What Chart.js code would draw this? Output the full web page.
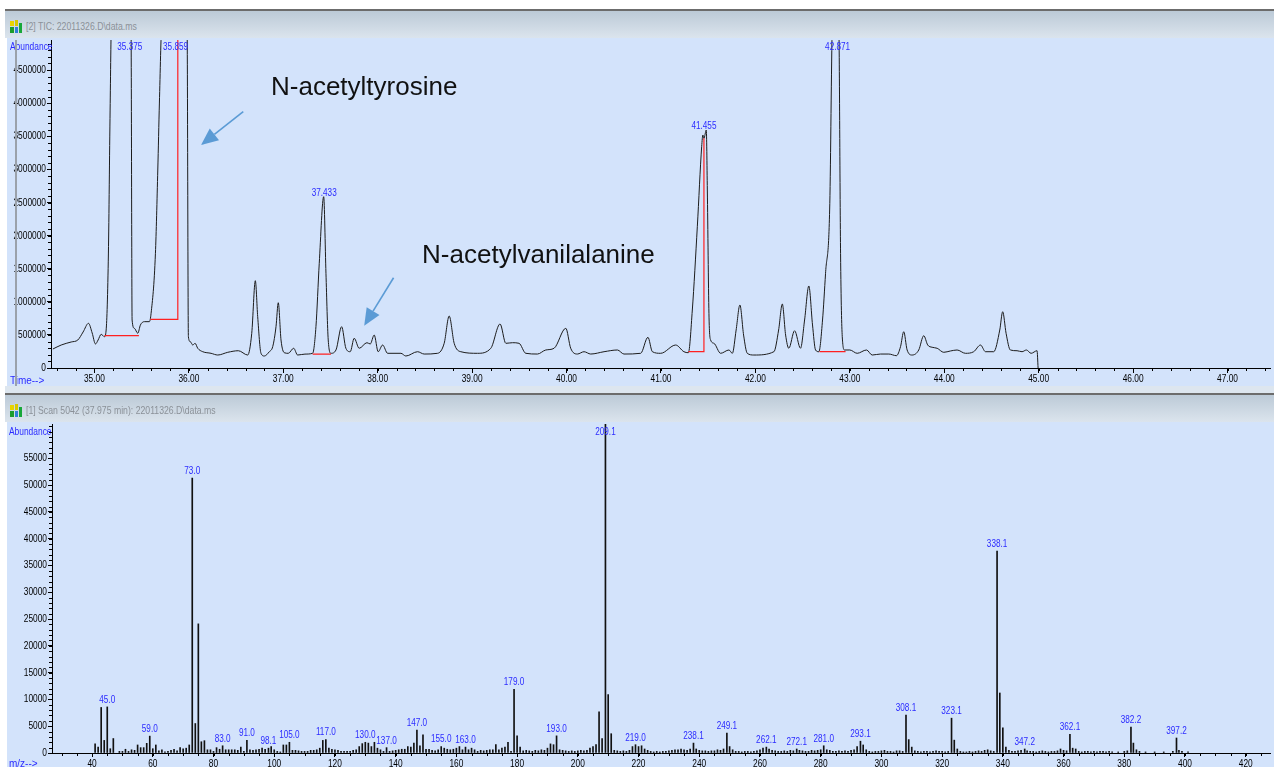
<!DOCTYPE html>
<html>
<head>
<meta charset="utf-8">
<script src="https://cdn.jsdelivr.net/npm/chart.js@4.4.0/dist/chart.umd.min.js"></script>
<style>
  body { margin: 0; width: 1274px; height: 767px; overflow: hidden; background: #fff; position: relative;
         font-family: 'Liberation Sans', Arial, sans-serif; }
  .topline { position: absolute; left: 5px; right: 0; height: 2px; background: #6c6c6c; }
  .hdr { position: absolute; left: 5px; right: 0; height: 27px; background: linear-gradient(#bccad7, #dbe4ed); }
  .hdr span { position: absolute; left: 21px; top: 9px; font-size: 11px; color: #8b9198; white-space: nowrap;
              transform: scaleX(0.79); transform-origin: 0 0; }
  .hdr svg { position: absolute; left: 4px; top: 9px; }
  .panel { position: absolute; left: 7px; right: 0; background: #d3e3fb; }
  .panel canvas { position: absolute; left: 0; top: 0; }
  .axlbl { position: absolute; font-size: 10.5px; color: #2b2bff; white-space: nowrap;
           transform: scaleX(0.8); transform-origin: 0 0; }
  .strip { position: absolute; left: 5px; right: 0; top: 386px; height: 7px; background: #dde6ef; }
  .cursor { position: absolute; left: 15px; top: 40px; width: 2px; height: 346px; background: #9aa1aa; }
</style>
</head>
<body>

<div class="topline" style="top:9px"></div>
<div class="hdr" style="top:11px">
  <svg width="14" height="14"><rect x="1" y="1" width="4" height="5" fill="#e8d400"/><rect x="6" y="0" width="3" height="6" fill="#d7c800"/><rect x="1" y="7" width="4" height="6" fill="#1c9c2c"/><rect x="6" y="7" width="3" height="6" fill="#2f7fd8"/><rect x="10" y="3" width="3" height="10" fill="#18a83a"/></svg>
  <span>[2] TIC: 22011326.D\data.ms</span>
</div>
<div class="panel" style="top:38px;height:348px"><canvas id="tic" width="1267" height="348"></canvas></div>
<div class="axlbl" style="left:10px;top:40px">Abundance</div>
<div class="axlbl" style="left:10px;top:374px;transform:scaleX(0.95)">Time--&gt;</div>
<div class="cursor"></div>
<div class="strip"></div>
<div class="topline" style="top:393px"></div>
<div class="hdr" style="top:395px">
  <svg width="14" height="14"><rect x="1" y="1" width="4" height="5" fill="#e8d400"/><rect x="6" y="0" width="3" height="6" fill="#d7c800"/><rect x="1" y="7" width="4" height="6" fill="#1c9c2c"/><rect x="6" y="7" width="3" height="6" fill="#2f7fd8"/><rect x="10" y="3" width="3" height="10" fill="#18a83a"/></svg>
  <span>[1] Scan 5042 (37.975 min): 22011326.D\data.ms</span>
</div>
<div class="panel" style="top:422px;height:345px"><canvas id="spec" width="1267" height="345"></canvas></div>
<div class="axlbl" style="left:9px;top:425px">Abundance</div>
<div class="axlbl" style="left:9px;top:757px;transform:scaleX(0.95)">m/z--&gt;</div>

<script>
// ---- TIC chromatogram (retention time in min, abundance) ----
var ticTime = [34.56, 34.648, 34.754, 34.824, 34.88, 34.937, 34.976, 35.011, 35.039, 35.071, 35.106, 35.124,
  35.148, 35.166, 35.18, 35.375, 35.388, 35.399, 35.423, 35.459, 35.487, 35.529, 35.582, 35.6, 35.646, 35.671,
  35.688, 35.713, 35.859, 35.981, 35.995, 36.016, 36.041, 36.066, 36.094, 36.147, 36.235, 36.306, 36.412,
  36.524, 36.623, 36.666, 36.704, 36.729, 36.764, 36.799, 36.852, 36.888, 36.923, 36.947, 36.976, 37.011,
  37.053, 37.11, 37.152, 37.23, 37.311, 37.346, 37.381, 37.428, 37.452, 37.476, 37.505, 37.558, 37.618, 37.663,
  37.709, 37.751, 37.804, 37.886, 37.921, 37.963, 38.005, 38.052, 38.105, 38.246, 38.298, 38.422, 38.492,
  38.634, 38.704, 38.757, 38.81, 38.88, 39.057, 39.198, 39.296, 39.357, 39.428, 39.497, 39.568, 39.692, 39.78,
  39.868, 39.992, 40.044, 40.115, 40.185, 40.256, 40.397, 40.539, 40.608, 40.785, 40.862, 40.909, 40.997,
  41.156, 41.243, 41.29, 41.332, 41.385, 41.431, 41.444, 41.455, 41.48, 41.491, 41.508, 41.526, 41.561,
  41.632, 41.72, 41.756, 41.796, 41.836, 41.875, 41.914, 41.984, 42.196, 42.246, 42.285, 42.32, 42.354,
  42.415, 42.478, 42.521, 42.566, 42.605, 42.637, 42.672, 42.711, 42.743, 42.788, 42.814, 42.85, 42.884,
  42.902, 42.92, 42.944, 43.0, 43.078, 43.177, 43.237, 43.325, 43.413, 43.494, 43.537, 43.571, 43.607, 43.66,
  43.73, 43.783, 43.825, 43.872, 43.925, 43.995, 44.065, 44.136, 44.224, 44.312, 44.384, 44.437, 44.524,
  44.588, 44.619, 44.655, 44.7, 44.771, 44.824, 44.87, 44.92, 44.983, 44.994]
var ticAbund = [287000, 347000, 393000, 423000, 544000, 675000, 529000, 363000, 423000, 509000, 473000, 574000,
  1737000, 3897000, 5200000, 6000000, 5200000, 725000, 600000, 524000, 650000, 700000, 700000, 826000, 1733000, 2991000,
  4003000, 5200000, 6000000, 5200000, 473000, 397000, 347000, 373000, 298000, 246000, 222000, 196000, 237000,
  261000, 196000, 524000, 1319000, 775000, 222000, 181000, 246000, 322000, 624000, 986000, 423000, 231000,
  222000, 298000, 196000, 210000, 222000, 624000, 1582000, 2588000, 1431000, 423000, 222000, 272000, 624000, 298000,
  246000, 449000, 298000, 382000, 363000, 498000, 246000, 347000, 222000, 222000, 181000, 246000, 211000,
  222000, 373000, 785000, 373000, 246000, 222000, 298000, 665000, 373000, 382000, 373000, 222000, 211000, 272000,
  298000, 600000, 298000, 211000, 246000, 211000, 246000, 272000, 211000, 222000, 464000, 246000, 222000,
  347000, 246000, 231000, 876000, 2134000, 3343000, 3520000, 3470000, 3595000, 2689000, 826000, 423000, 373000,
  222000, 272000, 222000, 574000, 952000, 498000, 222000, 196000, 246000, 574000, 967000, 498000, 298000,
  563000, 298000, 725000, 1239000, 650000, 272000, 246000, 725000, 1431000, 2488000, 5200000, 6000000, 5200000,
  1733000, 473000, 272000, 272000, 222000, 272000, 196000, 211000, 211000, 186000, 322000, 548000, 272000, 196000,
  272000, 488000, 347000, 313000, 298000, 237000, 257000, 272000, 222000, 246000, 347000, 246000, 246000,
  574000, 850000, 524000, 272000, 261000, 246000, 272000, 222000, 261000, 0]

// integration baselines (red), null abundance = break
var baseTime  = [35.106, 35.471, 35.5, 35.593, 35.883, 35.883, 36.0, 37.311, 37.505, 37.6, 41.29, 41.455, 41.455, 41.6, 42.679, 42.955]
var baseAbund = [488000, 488000, null, 735000, 735000, 5200000, null, 211000, 211000, null, 246000, 246000, 3470000, null, 246000, 246000]

var ticPeaks = [35.375, 35.859, 37.433, 41.455, 42.871]
var ticXTicks = [35, 36, 37, 38, 39, 40, 41, 42, 43, 44, 45, 46, 47]
var ticYTicks = [0, 500000, 1000000, 1500000, 2000000, 2500000, 3000000, 3500000, 4000000, 4500000]

// ---- mass spectrum, scan 5042 (m/z, abundance) ----
var specMz = [41, 42, 43, 44, 45, 46, 47, 49, 50, 51, 52, 53, 54, 55, 56, 57, 58, 59, 60, 61, 62, 63, 64, 65, 66, 67, 68, 69, 70,
  71, 72, 73, 74, 75, 76, 77, 78, 79, 80, 81, 82, 83, 84, 85, 86, 87, 88, 89, 90, 91, 92, 93, 94, 95, 96, 97, 98.1, 99, 100,
  101, 102, 103, 104, 105, 106, 107, 108, 109, 110, 111, 112, 113, 114, 115, 116, 117, 118, 119, 120, 121, 122, 123, 124, 125,
  126, 127, 128, 129, 130, 131, 132, 133, 134, 135, 136, 137, 138, 139, 140, 141, 142, 143, 144, 145, 146, 147, 148, 149, 150,
  151, 152, 153, 154, 155, 156, 157, 158, 159, 160, 161, 162, 163, 164, 165, 166, 167, 168, 169, 170, 171, 172, 173, 174, 175,
  176, 177, 178, 179, 180, 181, 182, 183, 184, 185, 186, 187, 188, 189, 190, 191, 192, 193, 194, 195, 196, 197, 198, 199, 200,
  201, 202, 203, 204, 205, 206, 207, 208, 209.1, 210, 211, 212, 213, 214, 215, 216, 217, 218, 219, 220, 221, 222, 223, 224, 225,
  226, 227, 228, 229, 230, 231, 232, 233, 234, 235, 236, 237, 238.1, 239, 240, 241, 242, 243, 244, 245, 246, 247, 248, 249.1, 250,
  251, 252, 253, 254, 255, 256, 257, 258, 259, 260, 261, 262.1, 263, 264, 265, 266, 267, 268, 269, 270, 271, 272.1, 273, 274, 275,
  276, 277, 278, 279, 280, 281, 282, 283, 284, 285, 286, 287, 288, 289, 290, 291, 292, 293.1, 294, 295, 296, 297, 298, 299, 300,
  301, 302, 303, 304, 305, 306, 307, 308.1, 309, 310, 311, 312, 313, 314, 315, 316, 317, 318, 319, 320, 321, 322, 323.1, 324, 325,
  326, 327, 328, 329, 330, 331, 332, 333, 334, 335, 336, 337, 338.1, 339, 340, 341, 342, 343, 344, 345, 346, 347.2, 348, 349, 350,
  351, 352, 353, 354, 355, 356, 357, 358, 359, 360, 361, 362.1, 363, 364, 365, 366, 367, 368, 369, 370, 371, 372, 373, 374, 375,
  376, 378, 380, 381, 382.2, 383, 384, 385, 387, 390, 393, 396, 397.2, 398, 399, 401]
var specAbund = [1700, 1100, 8500, 2350, 8600, 800, 2700, 300, 300, 700, 300, 600, 500, 1500, 1000, 1000, 1800, 3150, 800, 1500, 400, 600, 200, 300, 500, 700, 400, 1000, 800,
  900, 1500, 51300, 5500, 24100, 2100, 2300, 600, 600, 300, 1000, 700, 1350, 600, 600, 600, 600, 500, 1100, 300, 2350, 600, 500, 600, 700, 900, 700, 900, 1200, 600,
  300, 200, 1500, 1500, 2000, 500, 500, 400, 300, 300, 300, 500, 500, 600, 900, 2350, 2500, 900, 700, 600, 500, 300, 300, 300, 300,
  500, 600, 1200, 1750, 2000, 1850, 1200, 2000, 900, 600, 300, 1000, 300, 400, 500, 600, 700, 700, 1200, 1100, 1850, 4300, 1350, 3400, 700,
  700, 500, 400, 600, 1200, 900, 700, 600, 700, 900, 1200, 600, 1100, 600, 900, 600, 300, 500, 400, 500, 600, 600, 1550, 600, 900,
  1100, 2000, 300, 11900, 3200, 1100, 400, 500, 400, 300, 500, 400, 600, 500, 900, 1700, 1550, 3200, 600, 500, 400, 300, 400, 300, 400,
  500, 400, 500, 900, 1200, 1550, 7700, 2700, 61400, 10900, 3600, 500, 400, 300, 400, 300, 500, 1200, 1550, 1200, 1350, 750, 500, 300, 200,
  300, 200, 300, 300, 400, 500, 600, 600, 750, 600, 500, 750, 1850, 750, 500, 400, 400, 300, 400, 400, 600, 500, 750, 3700, 1200,
  600, 300, 300, 200, 300, 300, 200, 300, 400, 600, 900, 1100, 750, 500, 400, 300, 300, 400, 300, 500, 400, 750, 500, 400, 300,
  300, 500, 400, 500, 600, 1350, 600, 500, 300, 300, 400, 300, 400, 300, 500, 600, 1200, 2200, 1500, 600, 300, 200, 300, 300, 400,
  500, 300, 300, 200, 400, 400, 300, 7100, 2500, 1100, 400, 300, 200, 300, 300, 200, 300, 400, 300, 300, 200, 300, 6500, 2400, 750,
  300, 200, 200, 300, 200, 300, 400, 300, 500, 600, 400, 300, 37700, 11200, 4700, 1100, 500, 300, 300, 400, 500, 750, 400, 300, 300,
  200, 300, 400, 300, 200, 300, 300, 400, 750, 500, 400, 3500, 900, 750, 300, 200, 300, 300, 200, 300, 200, 300, 300, 200, 300,
  200, 200, 300, 400, 4850, 1850, 600, 300, 200, 200, 200, 300, 2800, 500, 300, 200]

var specLabels = [45.0, 59.0, 73.0, 83.0, 91.0, 98.1, 105.0, 117.0, 130.0, 137.0, 147.0, 155.0, 163.0, 179.0, 193.0,
  209.1, 219.0, 238.1, 249.1, 262.1, 272.1, 281.0, 293.1, 308.1, 323.1, 338.1, 347.2, 362.1, 382.2, 397.2]
var specXTicks = [40, 60, 80, 100, 120, 140, 160, 180, 200, 220, 240, 260, 280, 300, 320, 340, 360, 380, 400, 420]
var specYTicks = [0, 5000, 10000, 15000, 20000, 25000, 30000, 35000, 40000, 45000, 50000, 55000]

var sansFont = "'Liberation Sans', Arial, sans-serif"

const range = (a, b, s) => { var r = []; for (var v = a; v <= b + 1e-9; v += s) r.push(+v.toFixed(4)); return r }

// highest value near a given x
const apexOf = (xs, ys, t, tol) => {
  var best = 0
  for (var i = 0; i < xs.length; i++) {
    if (Math.abs(xs[i] - t) <= tol && ys[i] > best) best = ys[i]
  }
  return best
}

// condensed text: squeeze a normal face horizontally (no narrow face installed)
const narrowText = (ctx, text, x, y, align, size, sx) => {
  ctx.save()
  ctx.translate(x, y)
  ctx.scale(sx, 1)
  ctx.font = size + 'px ' + sansFont
  ctx.textAlign = align
  ctx.textBaseline = 'middle'
  ctx.fillText(text, 0, 0)
  ctx.restore()
}

const minorTicks = {
  id: 'minorTicks',
  afterDraw(chart, args, opts) {
    const ctx = chart.ctx, xs = chart.scales.x, ys = chart.scales.y
    ctx.save()
    ctx.strokeStyle = '#000'
    ctx.lineWidth = 1
    opts.x.forEach(v => {
      var p = Math.round(xs.getPixelForValue(v)) + 0.5
      if (p < xs.left || p > xs.right) return
      ctx.beginPath(); ctx.moveTo(p, xs.top); ctx.lineTo(p, xs.top + opts.len); ctx.stroke()
    })
    opts.y.forEach(v => {
      var p = Math.round(ys.getPixelForValue(v)) + 0.5
      if (p < ys.top) return
      ctx.beginPath(); ctx.moveTo(ys.right - opts.len, p); ctx.lineTo(ys.right, p); ctx.stroke()
    })
    ctx.restore()
  }
}

const tickText = {
  id: 'tickText',
  afterDraw(chart, args, opts) {
    const ctx = chart.ctx, xs = chart.scales.x, ys = chart.scales.y
    ctx.save()
    ctx.fillStyle = '#000'
    opts.xv.forEach((v, i) => narrowText(ctx, opts.xl[i], xs.getPixelForValue(v), xs.top + 11, 'center', 11, 0.76))
    opts.yv.forEach((v, i) => narrowText(ctx, opts.yl[i], ys.right - 5, ys.getPixelForValue(v), 'right', 11, 0.76))
    ctx.restore()
  }
}

const peakLabels = {
  id: 'peakLabels',
  afterDatasetsDraw(chart, args, opts) {
    const ctx = chart.ctx, xs = chart.scales.x, ys = chart.scales.y
    ctx.save()
    ctx.fillStyle = '#2b2bff'
    opts.items.forEach(it => {
      var y = Math.max(chart.chartArea.top + opts.minTop, ys.getPixelForValue(it.y) - opts.gap)
      narrowText(ctx, it.text, xs.getPixelForValue(it.x), y, 'center', 10.5, 0.78)
    })
    ctx.restore()
  }
}

const notes = {
  id: 'notes',
  afterDatasetsDraw(chart, args, opts) {
    if (!opts.texts) return
    const ctx = chart.ctx, xs = chart.scales.x, ys = chart.scales.y
    ctx.save()
    ctx.font = '26px ' + sansFont
    ctx.fillStyle = '#111'
    ctx.textAlign = 'left'
    ctx.textBaseline = 'middle'
    opts.texts.forEach(t => ctx.fillText(t.text, xs.getPixelForValue(t.x), ys.getPixelForValue(t.y)))
    ctx.strokeStyle = '#5b9bd5'
    ctx.fillStyle = '#5b9bd5'
    ctx.lineWidth = 1.6
    opts.arrows.forEach(a => {
      var x0 = xs.getPixelForValue(a.x0), y0 = ys.getPixelForValue(a.y0)
      var x1 = xs.getPixelForValue(a.x1), y1 = ys.getPixelForValue(a.y1)
      var ang = Math.atan2(y1 - y0, x1 - x0), hl = 17, hw = 7.5
      var bx = x1 - hl * Math.cos(ang), by = y1 - hl * Math.sin(ang)
      ctx.beginPath(); ctx.moveTo(x0, y0); ctx.lineTo(bx, by); ctx.stroke()
      ctx.beginPath()
      ctx.moveTo(x1, y1)
      ctx.lineTo(bx + hw * Math.sin(ang), by - hw * Math.cos(ang))
      ctx.lineTo(bx - hw * Math.sin(ang), by + hw * Math.cos(ang))
      ctx.closePath(); ctx.fill()
    })
    ctx.restore()
  }
}

const axisX = (min, max, ticks, h, tl) => ({
  type: 'linear', min: min, max: max, offset: false,
  afterBuildTicks: a => { a.ticks = ticks.map(v => ({ value: v })) },
  afterFit: s => { s.height = h; s.paddingLeft = 0; s.paddingRight = 0 },
  ticks: { display: false },
  grid: { display: true, drawOnChartArea: false, drawTicks: true, tickLength: tl, color: '#000', offset: false },
  border: { display: true, color: '#000', width: 1 }
})
const axisY = (max, ticks, w) => ({
  type: 'linear', min: 0, max: max,
  afterBuildTicks: a => { a.ticks = ticks.map(v => ({ value: v })) },
  afterFit: s => { s.width = w; s.paddingTop = 0; s.paddingBottom = 0 },
  ticks: { display: false },
  grid: { display: true, drawOnChartArea: false, drawTicks: true, tickLength: 4, color: '#000' },
  border: { display: true, color: '#000', width: 1 }
})

var ticPts = ticTime.map((t, i) => ({ x: t, y: ticAbund[i] }))
var basePts = baseTime.map((t, i) => ({ x: t, y: baseAbund[i] }))

var graficoTic = new Chart(document.getElementById('tic'), {
  type: 'line',
  data: {
    datasets: [
      { data: basePts, borderColor: '#ff2020', borderWidth: 1.2, pointRadius: 0, tension: 0, spanGaps: false },
      { data: ticPts, borderColor: '#1c1c1c', borderWidth: 1, pointRadius: 0, cubicInterpolationMode: 'monotone' }
    ]
  },
  options: {
    responsive: false, animation: false, devicePixelRatio: 1,
    layout: { padding: { left: 0, top: 2, right: 4, bottom: 0 } },
    scales: {
      x: axisX(34.54, 47.45, ticXTicks, 18, 5),
      y: axisY(4955000, ticYTicks, 44)
    },
    plugins: {
      legend: { display: false }, tooltip: { enabled: false },
      minorTicks: { x: range(34.6, 47.4, 0.2), y: range(100000, 4900000, 100000), len: 3 },
      tickText: { xv: ticXTicks, xl: ticXTicks.map(v => v.toFixed(2)), yv: ticYTicks, yl: ticYTicks.map(v => String(v)) },
      peakLabels: { items: ticPeaks.map(p => ({ text: p.toFixed(3), x: p, y: apexOf(ticTime, ticAbund, p, 0.04) })), gap: 4, minTop: 7 },
      notes: {
        texts: [{ text: 'N-acetyltyrosine', x: 36.87, y: 4230000 }, { text: 'N-acetylvanilalanine', x: 38.47, y: 1690000 }],
        arrows: [{ x0: 36.576, y0: 3872000, x1: 36.129, y1: 3369000 }, { x0: 38.168, y0: 1364000, x1: 37.857, y1: 639000 }]
      }
    }
  },
  plugins: [minorTicks, tickText, peakLabels, notes]
})

var specPts = specMz.map((m, i) => ({ x: m, y: specAbund[i] }))

var graficoSpec = new Chart(document.getElementById('spec'), {
  type: 'bar',
  data: { datasets: [{ data: specPts, backgroundColor: '#111', barThickness: 1, borderWidth: 0 }] },
  options: {
    responsive: false, animation: false, devicePixelRatio: 1,
    layout: { padding: { left: 0, top: 2, right: 4, bottom: 0 } },
    scales: {
      x: axisX(26.8, 428, specXTicks, 14, 4),
      y: axisY(61400, specYTicks, 45)
    },
    plugins: {
      legend: { display: false }, tooltip: { enabled: false },
      minorTicks: { x: range(30, 425, 5), y: range(1000, 61000, 1000), len: 3 },
      tickText: { xv: specXTicks, xl: specXTicks.map(v => String(v)), yv: specYTicks, yl: specYTicks.map(v => String(v)) },
      peakLabels: { items: specLabels.map(m => ({ text: m.toFixed(1), x: m, y: apexOf(specMz, specAbund, m, 0.6) })), gap: 7, minTop: 8 },
      notes: {}
    }
  },
  plugins: [minorTicks, tickText, peakLabels, notes]
})
</script>
</body>
</html>
